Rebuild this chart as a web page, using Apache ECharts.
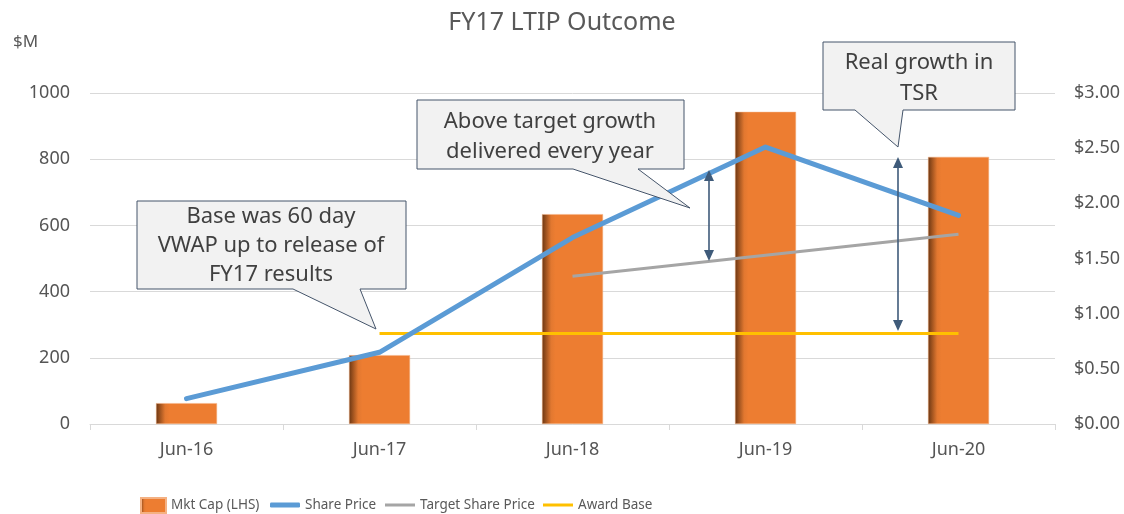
<!DOCTYPE html>
<html>
<head>
<meta charset="utf-8">
<script src="https://cdn.jsdelivr.net/npm/echarts@6/dist/echarts.min.js"></script>
<style>html,body{margin:0;padding:0;background:#fff}#c{width:1124px;height:514px}</style>
</head>
<body>
<div id="c"></div>
<script>
var categories = ['Jun-16', 'Jun-17', 'Jun-18', 'Jun-19', 'Jun-20'];
var mktCap = [63, 208, 634, 943, 807];
var sharePrice = [0.23, 0.65, 1.69, 2.51, 1.89];
var targetPrice = [null, null, 1.34, 1.53, 1.72];
var awardBase = [null, 0.82, 0.82, 0.82, 0.82];
var leftTicks = [0, 200, 400, 600, 800, 1000];
var rightTicks = [0, 0.5, 1, 1.5, 2, 2.5, 3];

var FONT = 'Noto Sans';
var TXT = '#595959';
var BORDER = '#44546A';
var ARROW = '#3F5B7A';

var barColor = new echarts.graphic.LinearGradient(0, 0, 1, 0, [
  {offset: 0, color: '#6B3612'},
  {offset: 0.15, color: '#E27830'},
  {offset: 0.22, color: '#ED7D31'},
  {offset: 1, color: '#ED7D31'}
]);

function callout(pts, lines, cx, y0, lh) {
  var els = [{
    type: 'polygon', shape: {points: pts},
    style: {fill: '#F2F2F2', stroke: BORDER, lineWidth: 1}, z: 100
  }];
  lines.forEach(function (t, i) {
    els.push({type: 'text', x: cx, y: y0 + i * lh, z: 101,
      style: {text: t, fill: '#404040', font: '22px "' + FONT + '"', align: 'center', verticalAlign: 'middle'}});
  });
  return els;
}
function arrow(x, y1, y2) {
  return [
    {type: 'line', shape: {x1: x, y1: y1 + 8, x2: x, y2: y2 - 8}, style: {stroke: ARROW, lineWidth: 1.6}, z: 90},
    {type: 'polygon', shape: {points: [[x, y1], [x - 5, y1 + 11], [x + 5, y1 + 11]]}, style: {fill: ARROW}, z: 90},
    {type: 'polygon', shape: {points: [[x, y2], [x - 5, y2 - 11], [x + 5, y2 - 11]]}, style: {fill: ARROW}, z: 90}
  ];
}

var graphics = [
  {type: 'text', x: 13, y: 42, style: {text: '$M', fill: TXT, font: '17px "' + FONT + '"', verticalAlign: 'middle'}}
];
graphics = graphics.concat(
  callout([[137,201],[406,201],[406,289],[360,289],[376,329],[293,289],[137,289]],
    ['Base was 60 day', 'VWAP up to release of', 'FY17 results'], 271, 217, 29),
  callout([[417,100],[684,100],[684,169],[638,169],[690,208],[573,169],[417,169]],
    ['Above target growth', 'delivered every year'], 550, 122, 30),
  callout([[823,42],[1015,42],[1015,110],[903,110],[898,147],[855,110],[823,110]],
    ['Real growth in', 'TSR'], 919, 63, 31),
  arrow(709, 170, 261),
  arrow(898, 157, 331)
);

function leg(name, left, icon, w, h) {
  return {
    left: left, top: 497, padding: 0, itemWidth: w, itemHeight: h, icon: icon,
    textStyle: {fontFamily: FONT, fontSize: 13.5, color: TXT, lineHeight: 16},
    data: [name]
  };
}

var chart = echarts.init(document.getElementById('c'));
chart.setOption({
  animation: false,
  textStyle: {fontFamily: FONT},
  title: {text: 'FY17 LTIP Outcome', left: 'center', top: 5,
    textStyle: {fontFamily: FONT, fontSize: 25, fontWeight: 'normal', color: TXT}},
  grid: {left: 90, right: 69, top: 93, bottom: 90},
  legend: [
    leg('Mkt Cap (LHS)', 140, 'rect', 25, 15),
    leg('Share Price', 270, 'roundRect', 30, 5),
    leg('Target Share Price', 385, 'rect', 30, 3),
    leg('Award Base', 543, 'rect', 30, 3)
  ],
  xAxis: {
    type: 'category', data: categories,
    axisLine: {lineStyle: {color: '#D9D9D9'}},
    axisTick: {show: true, length: 6, lineStyle: {color: '#D9D9D9'}},
    axisLabel: {color: '#555555', fontSize: 18, margin: 17, fontFamily: FONT}
  },
  yAxis: [{
    type: 'value', min: 0, max: 1000, interval: 200,
    axisLine: {show: false}, axisTick: {show: false},
    splitLine: {lineStyle: {color: '#D9D9D9'}},
    axisLabel: {color: '#555555', fontSize: 18, margin: 20, fontFamily: FONT,
      formatter: function (v) { return leftTicks.indexOf(v) >= 0 ? String(v) : ''; }}
  }, {
    type: 'value', min: 0, max: 3, interval: 0.5,
    axisLine: {show: false}, axisTick: {show: false}, splitLine: {show: false},
    axisLabel: {color: '#555555', fontSize: 18, margin: 19, fontFamily: FONT,
      formatter: function (v) { return rightTicks.indexOf(v) >= 0 ? '$' + v.toFixed(2) : ''; }}
  }],
  series: [{
    name: 'Mkt Cap (LHS)', type: 'bar', data: mktCap, barWidth: 61,
    itemStyle: {color: barColor, borderColor: '#F4B183', borderWidth: 0.5}
  }, {
    name: 'Share Price', type: 'line', yAxisIndex: 1, data: sharePrice,
    symbol: 'none', lineStyle: {color: '#5B9BD5', width: 5, cap: 'round', join: 'round'},
    itemStyle: {color: '#5B9BD5'}, z: 5
  }, {
    name: 'Target Share Price', type: 'line', yAxisIndex: 1, data: targetPrice,
    symbol: 'none', lineStyle: {color: '#A5A5A5', width: 3}, itemStyle: {color: '#A5A5A5'}, z: 4
  }, {
    name: 'Award Base', type: 'line', yAxisIndex: 1, data: awardBase,
    symbol: 'none', lineStyle: {color: '#FFC000', width: 3}, itemStyle: {color: '#FFC000'}, z: 4
  }],
  graphic: graphics
});
</script>
</body>
</html>
